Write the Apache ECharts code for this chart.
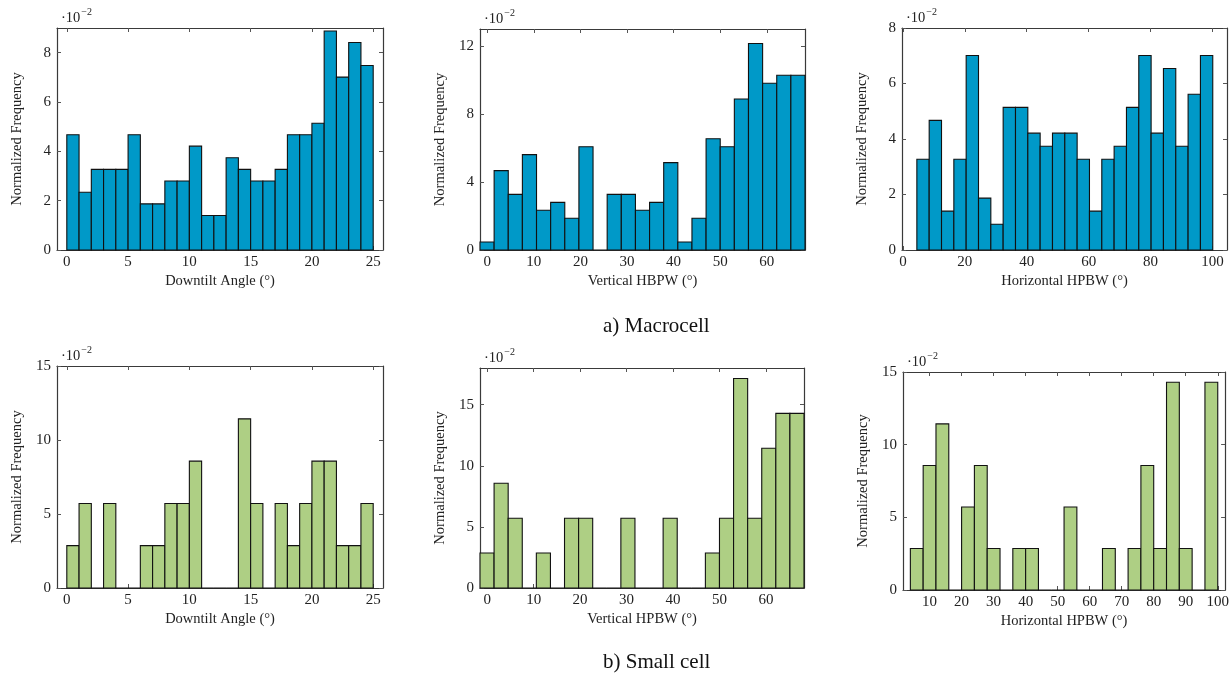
<!DOCTYPE html>
<html>
<head>
<meta charset="utf-8">
<script src="https://cdn.jsdelivr.net/npm/echarts@6/dist/echarts.min.js"></script>
<style>
  html, body { margin: 0; padding: 0; background: #fff; }
  #chart { width: 1232px; height: 675px; }
</style>
</head>
<body>
<div id="chart"></div>
<script>
// heights in units of 1e-2 (normalized frequency)
const downtiltMacro = [4.67, 2.34, 3.27, 3.27, 3.27, 4.67, 1.87, 1.87, 2.80, 2.80, 4.21, 1.40, 1.40,
  3.74, 3.27, 2.80, 2.80, 3.27, 4.67, 4.67, 5.14, 8.88, 7.01, 8.41, 7.48];
const vertMacro = [0.47, 4.67, 3.27, 5.61, 2.34, 2.80, 1.87, 6.07, 0, 3.27, 3.27, 2.34, 2.80, 5.14,
  0.47, 1.87, 6.54, 6.07, 8.88, 12.15, 9.81, 10.28, 10.28];
const horizMacro = [3.27, 4.67, 1.40, 3.27, 7.01, 1.87, 0.93, 5.14, 5.14, 4.21, 3.74, 4.21, 4.21,
  3.27, 1.40, 3.27, 3.74, 5.14, 7.01, 4.21, 6.54, 3.74, 5.61, 7.01];
const downtiltSmall = [2.86, 5.71, 0, 5.71, 0, 0, 2.86, 2.86, 5.71, 5.71, 8.57, 0, 0, 0, 11.43, 5.71,
  0, 5.71, 2.86, 5.71, 8.57, 8.57, 2.86, 2.86, 5.71];
const vertSmall = [2.86, 8.57, 5.71, 0, 2.86, 0, 5.71, 5.71, 0, 0, 5.71, 0, 0, 5.71, 0, 0, 2.86, 5.71,
  17.14, 5.71, 11.43, 14.29, 14.29];
const horizSmall = [2.86, 8.57, 11.43, 0, 5.71, 8.57, 2.86, 0, 2.86, 2.86, 0, 0, 5.71, 0, 0, 2.86, 0,
  2.86, 8.57, 2.86, 14.29, 2.86, 0, 14.29];

// histogram bin ranges [first edge, last edge]
const downtiltBins = [0, 25];
const vertBins = [-1.55, 68.2];
const horizMacroBins = [4.5, 100.1];
const horizSmallBins = [4, 100];

// tick labels
const downtiltTicks = [0, 5, 10, 15, 20, 25];
const vertTicks = [0, 10, 20, 30, 40, 50, 60];
const horizMacroTicks = [0, 20, 40, 60, 80, 100];
const horizSmallTicks = [10, 20, 30, 40, 50, 60, 70, 80, 90, 100];
const yTicksMacroDown = [0, 2, 4, 6, 8];
const yTicksMacroVert = [0, 4, 8, 12];
const yTicksMacroHoriz = [0, 2, 4, 6, 8];
const yTicksSmall = [0, 5, 10, 15];

const BLUE = '#0099c8';
const GREEN = '#aecf84';
const FONT = '"Liberation Serif", "DejaVu Serif", serif';

const panels = [
  { vals: downtiltMacro, bins: downtiltBins, xt: downtiltTicks, yt: yTicksMacroDown, xr: [-0.8, 25.8], ymax: 9,
    name: 'Downtilt Angle (°)', color: BLUE, grid: { left: 57, top: 28, width: 326, height: 222 } },
  { vals: vertMacro, bins: vertBins, xt: vertTicks, yt: yTicksMacroVert, xr: [-1.55, 68.2], ymax: 13,
    name: 'Vertical HBPW (°)', color: BLUE, grid: { left: 480, top: 29, width: 325, height: 221 } },
  { vals: horizMacro, bins: horizMacroBins, xt: horizMacroTicks, yt: yTicksMacroHoriz, xr: [-0.3, 104.7], ymax: 8,
    name: 'Horizontal HPBW (°)', color: BLUE, grid: { left: 902, top: 28, width: 325, height: 222 } },
  { vals: downtiltSmall, bins: downtiltBins, xt: downtiltTicks, yt: yTicksSmall, xr: [-0.8, 25.8], ymax: 15,
    name: 'Downtilt Angle (°)', color: GREEN, grid: { left: 57, top: 366, width: 326, height: 222 } },
  { vals: vertSmall, bins: vertBins, xt: vertTicks, yt: yTicksSmall, xr: [-1.55, 68.2], ymax: 18,
    name: 'Vertical HPBW (°)', color: GREEN, grid: { left: 480, top: 368, width: 324, height: 220 } },
  { vals: horizSmall, bins: horizSmallBins, xt: horizSmallTicks, yt: yTicksSmall, xr: [1.7, 102.3], ymax: 15,
    name: 'Horizontal HPBW (°)', color: GREEN, grid: { left: 903, top: 372, width: 323, height: 218 } }
];

const lineStyle = { color: '#3a3a3a', width: 1.2 };
const grids = [], xAxes = [], yAxes = [], series = [], graphics = [];

panels.forEach((p, i) => {
  grids.push(p.grid);
  const tick = { show: true, inside: true, length: 4, lineStyle: { color: '#555', width: 1 } };
  const common = { type: 'value', gridIndex: i, splitLine: { show: false }, axisLine: { show: true, onZero: false, lineStyle } };
  xAxes.push(Object.assign({}, common, {
    position: 'bottom', min: p.xr[0], max: p.xr[1],
    axisTick: Object.assign({}, tick, { customValues: p.xt }),
    axisLabel: { customValues: p.xt, color: '#222', fontFamily: FONT, fontSize: 15, margin: 5 },
    name: p.name, nameLocation: 'middle', nameGap: 24,
    nameTextStyle: { color: '#222', fontFamily: FONT, fontSize: 14.5 }
  }));
  xAxes.push(Object.assign({}, common, {
    position: 'top', min: p.xr[0], max: p.xr[1],
    axisTick: Object.assign({}, tick, { customValues: p.xt }), axisLabel: { show: false }
  }));
  yAxes.push(Object.assign({}, common, {
    position: 'left', min: 0, max: p.ymax,
    axisTick: Object.assign({}, tick, { customValues: p.yt }),
    axisLabel: { customValues: p.yt, color: '#222', fontFamily: FONT, fontSize: 15, margin: 6 },
    name: 'Normalized Frequency', nameLocation: 'middle', nameGap: 32,
    nameTextStyle: { color: '#222', fontFamily: FONT, fontSize: 14.5 }
  }));
  yAxes.push(Object.assign({}, common, {
    position: 'right', min: 0, max: p.ymax,
    axisTick: Object.assign({}, tick, { customValues: p.yt }), axisLabel: { show: false }
  }));

  const n = p.vals.length;
  const w = (p.bins[1] - p.bins[0]) / n;
  const data = p.vals.map((v, k) => [p.bins[0] + k * w, p.bins[0] + (k + 1) * w, v]);
  series.push({
    type: 'custom',
    xAxisIndex: 2 * i,
    yAxisIndex: 2 * i,
    encode: { x: [0, 1], y: 2 },
    data: data,
    renderItem: (params, api) => {
      const a = api.coord([api.value(0), 0]);
      const b = api.coord([api.value(1), api.value(2)]);
      return {
        type: 'rect',
        shape: { x: a[0], y: b[1], width: b[0] - a[0], height: a[1] - b[1] },
        style: { fill: p.color, stroke: '#111', lineWidth: 1.1 }
      };
    }
  });

  graphics.push({
    type: 'text', left: p.grid.left + 4, top: p.grid.top - 21,
    style: {
      text: '{a|·10}{b|−2}',
      rich: {
        a: { fontFamily: FONT, fontSize: 14.5, fill: '#222', padding: [6, 0, 0, 0] },
        b: { fontFamily: FONT, fontSize: 10, fill: '#222', padding: [0, 0, 6, 1] }
      }
    }
  });
});

graphics.push({ type: 'text', x: 603, y: 326, style: { text: 'a) Macrocell', fontFamily: FONT, fontSize: 21, fill: '#111', align: 'left', verticalAlign: 'middle' } });
graphics.push({ type: 'text', x: 603, y: 662, style: { text: 'b) Small cell', fontFamily: FONT, fontSize: 21, fill: '#111', align: 'left', verticalAlign: 'middle' } });

const chart = echarts.init(document.getElementById('chart'));
chart.setOption({
  animation: false,
  backgroundColor: '#fff',
  grid: grids,
  xAxis: xAxes,
  yAxis: yAxes,
  series: series,
  graphic: graphics
});
</script>
</body>
</html>
